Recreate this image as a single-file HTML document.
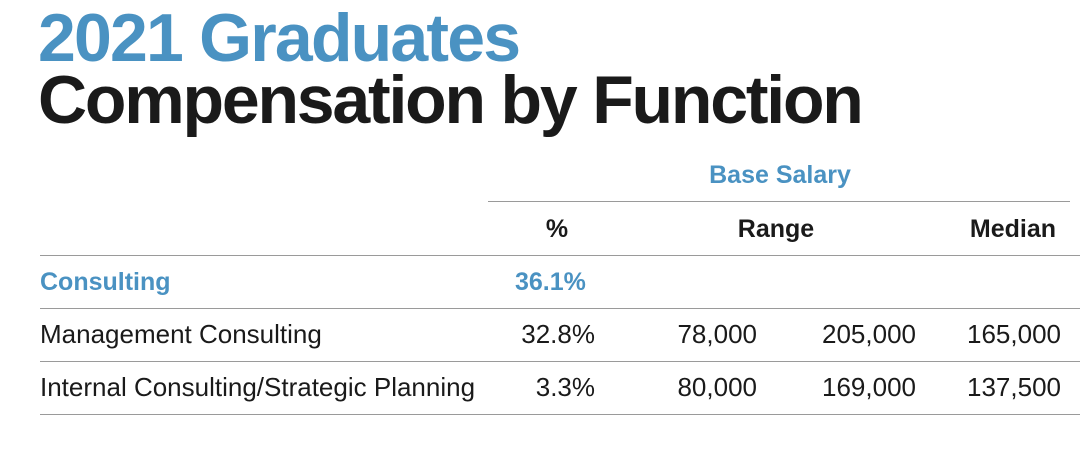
<!DOCTYPE html>
<html><head><meta charset="utf-8"><style>
body{margin:0;width:1080px;height:455px;background:#fff;position:relative;overflow:hidden;font-family:"Liberation Sans",sans-serif;color:#1a1a1a}
.t{position:absolute;white-space:nowrap}
.h1{font-weight:bold;font-size:68px;letter-spacing:-2.2px;line-height:1}
.b{font-weight:bold;font-size:25px}
.n{font-size:26px}
.r{text-align:right}
.blue{color:#4a92c2}
.ln{position:absolute;height:1px;background:#9a9a9a}
</style></head><body>
<div class="t h1 blue" style="left:38px;top:4px;letter-spacing:-1.8px">2021 Graduates</div>
<div class="t h1" style="left:38px;top:66px">Compensation by Function</div>

<div class="t b blue" style="left:680px;width:200px;text-align:center;top:161px">Base Salary</div>
<div class="ln" style="left:488px;width:582px;top:201px"></div>

<div class="t b" style="left:507px;width:100px;text-align:center;top:215px">%</div>
<div class="t b" style="left:676px;width:200px;text-align:center;top:215px">Range</div>
<div class="t b r" style="left:900px;width:156px;top:215px">Median</div>
<div class="ln" style="left:40px;width:1040px;top:255px"></div>

<div class="t b blue" style="left:40px;top:268px">Consulting</div>
<div class="t b blue" style="left:515px;top:268px">36.1%</div>
<div class="ln" style="left:40px;width:1040px;top:308px"></div>

<div class="t n" style="left:40px;top:319px">Management Consulting</div>
<div class="t n r" style="left:495px;width:100px;top:319px">32.8%</div>
<div class="t n r" style="left:637px;width:120px;top:319px">78,000</div>
<div class="t n r" style="left:776px;width:140px;top:319px">205,000</div>
<div class="t n r" style="left:921px;width:140px;top:319px">165,000</div>
<div class="ln" style="left:40px;width:1040px;top:361px"></div>

<div class="t n" style="left:40px;top:372px">Internal Consulting/Strategic Planning</div>
<div class="t n r" style="left:495px;width:100px;top:372px">3.3%</div>
<div class="t n r" style="left:637px;width:120px;top:372px">80,000</div>
<div class="t n r" style="left:776px;width:140px;top:372px">169,000</div>
<div class="t n r" style="left:921px;width:140px;top:372px">137,500</div>
<div class="ln" style="left:40px;width:1040px;top:414px"></div>
</body></html>
